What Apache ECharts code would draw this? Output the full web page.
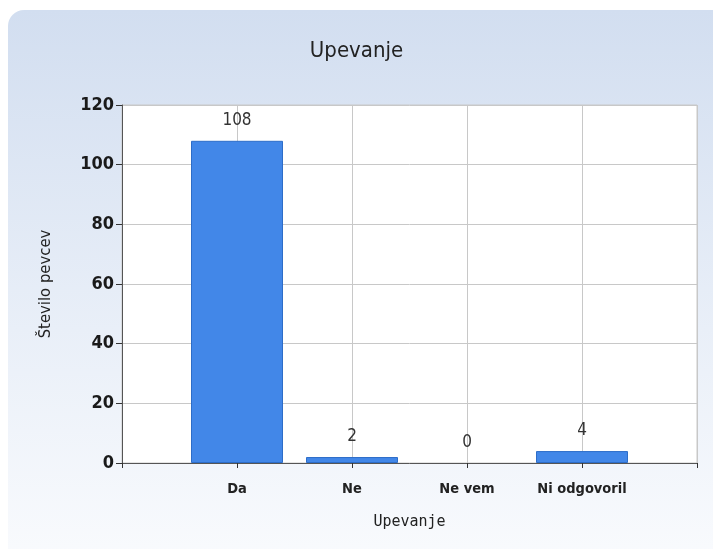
<!DOCTYPE html>
<html>
<head>
<meta charset="utf-8">
<script src="https://cdn.jsdelivr.net/npm/echarts@6/dist/echarts.min.js"></script>
<style>
  html, body { margin: 0; padding: 0; background: #ffffff; }
  #chart { width: 713px; height: 549px; }
</style>
</head>
<body>
<div id="chart"></div>
<script>
// Answers to the question "Upevanje"
const categories = ['Da', 'Ne', 'Ne vem', 'Ni odgovoril'];
const counts = [108, 2, 0, 4];
const yTicks = [0, 20, 40, 60, 80, 100, 120];

// Padded category list: an empty slot on each side so the answers sit on grid lines
const axisCats = [''].concat(categories, ['']);
// A zero count draws no bar outline, only its value label
const barData = [null].concat(
  counts.map(v => v === 0
    ? { value: v, itemStyle: { borderWidth: 0, color: 'rgba(0,0,0,0)' } }
    : v),
  [null]
);

const narrow = "'Liberation Sans Narrow', 'DejaVu Sans Condensed', Arial, sans-serif";
const condensed = "'DejaVu Sans Condensed', 'DejaVu Sans', sans-serif";

const chart = echarts.init(document.getElementById('chart'), null, { renderer: 'canvas' });

chart.setOption({
  animation: false,
  graphic: [{
    type: 'rect',
    z: -10,
    shape: { x: 8, y: 10, width: 740, height: 580, r: 16 },
    style: {
      fill: new echarts.graphic.LinearGradient(0, 0, 0, 1, [
        { offset: 0, color: '#d2def0' },
        { offset: 0.55, color: '#e9eff8' },
        { offset: 1, color: '#fbfcfe' }
      ])
    }
  }],
  title: {
    text: 'Upevanje',
    left: 'center',
    top: 35,
    textStyle: { fontFamily: narrow, fontSize: 22, fontWeight: 'normal', color: '#222' }
  },
  grid: {
    left: 122, right: 16, top: 105, bottom: 86,
    show: true,
    backgroundColor: '#ffffff',
    borderColor: '#c8c8c8',
    borderWidth: 1
  },
  xAxis: {
    type: 'category',
    data: axisCats,
    boundaryGap: false,
    name: 'Upevanje',
    nameLocation: 'middle',
    nameGap: 52,
    nameTextStyle: { fontFamily: "'DejaVu Sans Mono', monospace", fontSize: 15, color: '#222' },
    axisLine: { lineStyle: { color: '#555', width: 1 } },
    axisTick: { show: true, length: 5, lineStyle: { color: '#333' }, interval: 0 },
    axisLabel: {
      interval: 0, margin: 19,
      fontFamily: condensed, fontSize: 14.5, fontWeight: 'bold', color: '#222'
    },
    splitLine: { show: true, interval: 0, lineStyle: { color: '#c8c8c8', width: 1 } }
  },
  yAxis: {
    type: 'value',
    min: yTicks[0],
    max: yTicks[yTicks.length - 1],
    interval: yTicks[1] - yTicks[0],
    name: 'Število pevcev',
    nameLocation: 'middle',
    nameGap: 68,
    nameRotate: 90,
    nameTextStyle: { fontFamily: condensed, fontSize: 16.5, color: '#222' },
    axisLine: { show: true, lineStyle: { color: '#555', width: 1 } },
    axisTick: { show: true, length: 6, lineStyle: { color: '#333' } },
    axisLabel: {
      margin: 8,
      fontFamily: narrow, fontSize: 18, fontWeight: 'bold', color: '#1a1a1a'
    },
    splitLine: { show: true, lineStyle: { color: '#c8c8c8', width: 1 } }
  },
  series: [{
    type: 'bar',
    data: barData,
    barWidth: 92,
    itemStyle: { color: '#4287e8', borderColor: '#2d6dc8', borderWidth: 1 },
    label: {
      show: true,
      position: 'top',
      distance: 12,
      fontFamily: narrow, fontSize: 17, color: '#333'
    }
  }]
});
</script>
</body>
</html>
